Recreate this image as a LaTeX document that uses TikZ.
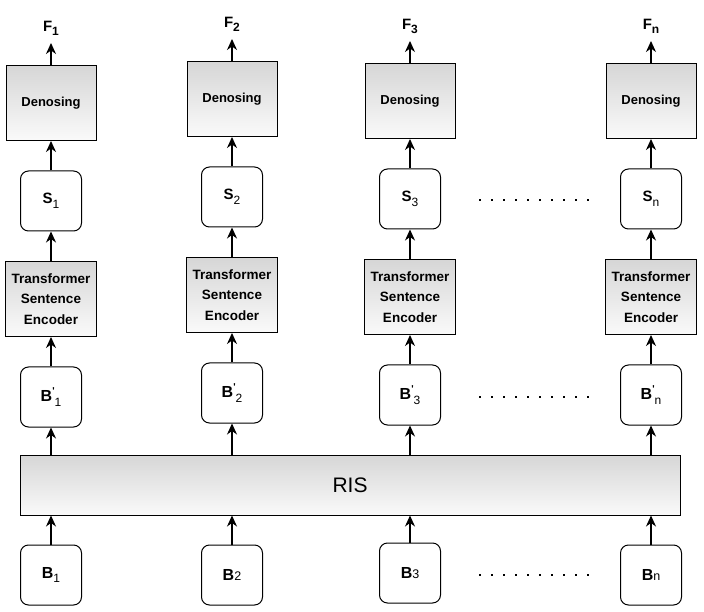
\documentclass[tikz,border=0pt]{standalone}
\usepackage{fontspec}
\setmainfont{Liberation Sans}
\usetikzlibrary{calc,arrows.meta,positioning}
\definecolor{shadeTop}{RGB}{214,214,214}
\definecolor{shadeBot}{RGB}{250,250,250}
\newcommand{\boxfont}{\fontsize{13}{20.5}\selectfont\bfseries}
\newcommand{\labfont}{\fontsize{15}{17}\selectfont\bfseries}
\newcommand{\bfont}{\fontsize{16}{18}\selectfont\bfseries}
\newcommand{\lowfont}{\fontsize{12.5}{13}\selectfont\mdseries}
\newcommand{\lowidx}[1]{\raisebox{-0.3em}{\fontsize{12}{12}\selectfont #1}}
\newcommand{\tick}{\raisebox{0.45em}{\fontsize{10}{10}\selectfont\textquotesingle}}

\begin{document}
\begin{tikzpicture}[x=1pt, y=1pt,
    rbox/.style={draw, rounded corners=8pt, line width=1pt, minimum width=61pt, minimum height=60pt, inner sep=0pt, align=center},
    gbox/.style={draw, line width=1pt, top color=shadeTop, bottom color=shadeBot, minimum width=90pt, minimum height=75pt, inner sep=0pt, align=center, font=\boxfont},
    enc/.style={gbox, minimum width=91pt, minimum height=75pt, font=\fontsize{13.5}{20.5}\selectfont\bfseries},
    lbl/.style={inner sep=0pt, outer sep=7pt, font=\labfont},
    arr/.style={-{Stealth[length=11pt, width=10pt, inset=3.5pt]}, line width=1.2pt},
    dots/.style={line width=2.2pt, dash pattern=on 2.2pt off 9.8pt},
    node distance=29.5pt
  ]
  \useasboundingbox (0,0) rectangle (704,611);

  % inputs
  \node[rbox, font=\bfont] (b1) at (51,36) {B\lowidx{\mdseries 1}};
  \node[rbox, font=\bfont] (b2) at (232,36) {B{\lowfont 2}};
  \node[rbox, font=\bfont] (b3) at (410,38) {B{\lowfont 3}};
  \node[rbox, font=\bfont] (bn) at (651,36) {B{\lowfont n}};

  \node[gbox, minimum width=660pt, minimum height=60pt, font=\fontsize{21}{24}\selectfont] (ris) at (350,126) {RIS};

  % column 1
  \node[rbox, font=\bfont] (bp1) at (51,214) {B\tick\lowidx{\mdseries 1}};
  \node[enc, above=of bp1] (t1) {Transformer\\Sentence\\Encoder};
  \node[rbox, font=\labfont, above=of t1] (s1) {S\lowidx{\mdseries 1}};
  \node[gbox, above=of s1] (d1) {Denosing};
  \node[lbl, above=22pt of d1] (f1) {F\lowidx{1}};

  % column 2
  \node[rbox, font=\bfont] (bp2) at (232,218) {B\tick\lowidx{\mdseries 2}};
  \node[enc, above=of bp2] (t2) {Transformer\\Sentence\\Encoder};
  \node[rbox, font=\labfont, above=of t2] (s2) {S\lowidx{\mdseries 2}};
  \node[gbox, above=of s2] (d2) {Denosing};
  \node[lbl, above=22pt of d2] (f2) {F\lowidx{2}};

  % column 3
  \node[rbox, font=\bfont] (bp3) at (410,216) {B\tick\lowidx{\mdseries 3}};
  \node[enc, above=of bp3] (t3) {Transformer\\Sentence\\Encoder};
  \node[rbox, font=\labfont, above=of t3] (s3) {S\lowidx{\mdseries 3}};
  \node[gbox, above=of s3] (d3) {Denosing};
  \node[lbl, above=22pt of d3] (f3) {F\lowidx{3}};

  % column n
  \node[rbox, font=\bfont] (bpn) at (651,216) {B\tick\lowidx{\mdseries n}};
  \node[enc, above=of bpn] (tn) {Transformer\\Sentence\\Encoder};
  \node[rbox, font=\labfont, above=of tn] (sn) {S\lowidx{\mdseries n}};
  \node[gbox, above=of sn] (dn) {Denosing};
  \node[lbl, above=22pt of dn] (fn) {F\lowidx{n}};

  \draw[arr] (b1.north) -- (b1.north|-ris.south);
  \draw[arr] (b2.north) -- (b2.north|-ris.south);
  \draw[arr] (b3.north) -- (b3.north|-ris.south);
  \draw[arr] (bn.north) -- (bn.north|-ris.south);

  \draw[arr] (ris.north-|bp1) -- (bp1);
  \draw[arr] (ris.north-|bp2) -- (bp2);
  \draw[arr] (ris.north-|bp3) -- (bp3);
  \draw[arr] (ris.north-|bpn) -- (bpn);

  \draw[arr] (bp1) -- (t1);
  \draw[arr] (bp2) -- (t2);
  \draw[arr] (bp3) -- (t3);
  \draw[arr] (bpn) -- (tn);
  \draw[arr] (t1) -- (s1);
  \draw[arr] (t2) -- (s2);
  \draw[arr] (t3) -- (s3);
  \draw[arr] (tn) -- (sn);
  \draw[arr] (s1) -- (d1);
  \draw[arr] (s2) -- (d2);
  \draw[arr] (s3) -- (d3);
  \draw[arr] (sn) -- (dn);
  \draw[arr] (d1) -- (f1);
  \draw[arr] (d2) -- (f2);
  \draw[arr] (d3) -- (f3);
  \draw[arr] (dn) -- (fn);

  % ellipsis dots
  \draw[dots] ($(s3.east)+(38,-1)$) -- ($(s3.east-|sn.west)+(-31,-1)$);
  \draw[dots] ($(bp3.east)+(38,-2)$) -- ($(bp3.east-|bpn.west)+(-31,-2)$);
  \draw[dots] ($(b3.east)+(38,-2)$) -- ($(b3.east-|bn.west)+(-31,-2)$);
\end{tikzpicture}
\end{document}
